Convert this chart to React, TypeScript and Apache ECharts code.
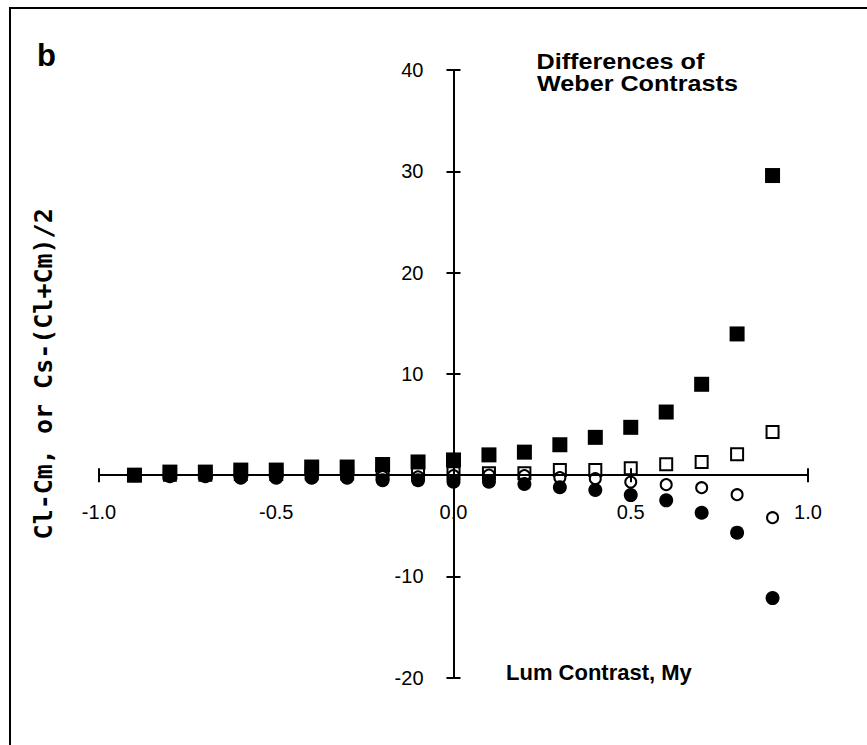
import React, { useEffect, useRef } from "react";
import * as echarts from "echarts";

// Luminance contrast (x) values
const lumContrast = [-0.9, -0.8, -0.7, -0.6, -0.5, -0.4, -0.3, -0.2, -0.1, 0, 0.1, 0.2, 0.3, 0.4, 0.5, 0.6, 0.7, 0.8, 0.9];
// Filled squares
const filledSquares = [0, 0.3, 0.3, 0.5, 0.5, 0.8, 0.8, 1.05, 1.3, 1.5, 2.0, 2.27, 3.0, 3.73, 4.72, 6.23, 8.97, 13.94, 29.58];
// Open squares
const openSquares = [0, 0.05, 0.05, 0.1, 0.1, 0.15, 0.15, 0.15, 0.2, 0.18, 0.18, 0.18, 0.5, 0.5, 0.69, 1.07, 1.3, 2.06, 4.26];
// Open circles
const openCircles = [0, -0.05, -0.05, -0.1, -0.1, -0.1, -0.15, -0.15, -0.17, -0.05, 0, -0.05, -0.25, -0.35, -0.68, -0.94, -1.24, -1.93, -4.2];
// Filled circles
const filledCircles = [0, -0.1, -0.1, -0.25, -0.25, -0.25, -0.25, -0.5, -0.5, -0.65, -0.65, -0.88, -1.2, -1.47, -1.97, -2.49, -3.71, -5.68, -12.14];

const xRange = { min: -1, max: 1, interval: 0.5 };
const yRange = { min: -20, max: 40, interval: 10 };

const yAxisName = "Cl-Cm, or Cs-(Cl+Cm)/2";
const xAxisName = "Lum Contrast, My";
const titleLines = ["Differences of", "Weber Contrasts"];
const panelLabel = "b";

const FONT = "'Liberation Sans', Arial, sans-serif";

const W = 867;
const H = 745;
const GRID = { left: 99, right: 59, top: 70, bottom: 67.3 };

export default function App() {
  const ref = useRef<HTMLDivElement>(null);

  useEffect(() => {
    if (!ref.current) return;
    const chart = echarts.init(ref.current, undefined, { renderer: "svg" });
    const pts = (ys: number[]) => lumContrast.map((x, i) => [x, ys[i]]);
    const lineStyle = { color: "#000", width: 2 };

    // place the axes through the origin (axes cross at 0,0)
    const gw = W - GRID.left - GRID.right;
    const gh = H - GRID.top - GRID.bottom;
    const zeroFromBottom = (gh * (0 - yRange.min)) / (yRange.max - yRange.min);
    const zeroFromLeft = (gw * (0 - xRange.min)) / (xRange.max - xRange.min);
    const offBottom = -zeroFromBottom;
    const offTop = -(gh - zeroFromBottom);
    const offLeft = -zeroFromLeft;
    const offRight = -(gw - zeroFromLeft);

    const option: any = {
      animation: false,
      backgroundColor: "#fff",
      grid: { ...GRID, containLabel: false, outerBoundsMode: "none" },
      xAxis: [
        {
          type: "value",
          position: "bottom",
          offset: offBottom,
          ...xRange,
          z: 10,
          axisLine: { show: true, onZero: false, lineStyle },
          axisTick: { show: true, length: 7, lineStyle },
          axisLabel: {
            margin: 27,
            fontSize: 20,
            color: "#000",
            fontFamily: FONT,
            formatter: (v: number) => v.toFixed(1),
          },
          splitLine: { show: false },
        },
        {
          type: "value",
          position: "top",
          offset: offTop,
          ...xRange,
          z: 10,
          axisLine: { show: false, onZero: false },
          axisTick: { show: true, length: 7, lineStyle },
          axisLabel: { show: false },
          splitLine: { show: false },
        },
      ],
      yAxis: [
        {
          type: "value",
          position: "left",
          offset: offLeft,
          ...yRange,
          z: 10,
          axisLine: { show: true, onZero: false, lineStyle },
          axisTick: { show: true, length: 7, lineStyle },
          axisLabel: {
            margin: 30,
            fontSize: 20,
            color: "#000",
            fontFamily: FONT,
            formatter: (v: number) => (v === 0 ? "" : String(v)),
          },
          splitLine: { show: false },
          name: yAxisName,
          nameLocation: "middle",
          nameRotate: 90,
          nameGap: 398,
          nameMoveOverlap: false,
          nameTextStyle: {
            fontFamily: "'DejaVu Sans Mono', monospace",
            fontWeight: "bold",
            fontSize: 25,
            color: "#000",
          },
        },
        {
          type: "value",
          position: "right",
          offset: offRight,
          ...yRange,
          z: 10,
          axisLine: { show: false, onZero: false },
          axisTick: { show: true, length: 7, lineStyle },
          axisLabel: { show: false },
          splitLine: { show: false },
        },
      ],
      series: [
        {
          name: "open squares",
          type: "scatter",
          symbol: "rect",
          symbolSize: 12,
          itemStyle: { color: "#fff", borderColor: "#000", borderWidth: 2, opacity: 1 },
          data: pts(openSquares),
        },
        {
          name: "open circles",
          type: "scatter",
          symbol: "circle",
          symbolSize: 11,
          itemStyle: { color: "#fff", borderColor: "#000", borderWidth: 2, opacity: 1 },
          data: pts(openCircles),
        },
        {
          name: "filled squares",
          type: "scatter",
          symbol: "rect",
          symbolSize: 15,
          itemStyle: { color: "#000", opacity: 1 },
          data: pts(filledSquares),
        },
        {
          name: "filled circles",
          type: "scatter",
          symbol: "circle",
          symbolSize: 14,
          itemStyle: { color: "#000", opacity: 1 },
          data: pts(filledCircles),
        },
      ],
      graphic: [
        {
          type: "rect",
          shape: { x: 10, y: 8, width: 1000, height: 1000 },
          style: { fill: "none", stroke: "#000", lineWidth: 2 },
          silent: true,
        },
        {
          type: "text",
          x: 37,
          y: 55,
          style: {
            text: panelLabel,
            fontFamily: FONT,
            fontWeight: "bold",
            fontSize: 31,
            fill: "#000",
            align: "left",
            verticalAlign: "middle",
          },
        },
        {
          type: "text",
          x: 536.5,
          y: 62,
          scaleX: 1.145,
          style: {
            text: titleLines[0],
            fontFamily: FONT,
            fontWeight: "bold",
            fontSize: 22,
            fill: "#000",
            align: "left",
            verticalAlign: "middle",
          },
        },
        {
          type: "text",
          x: 537,
          y: 84,
          scaleX: 1.145,
          style: {
            text: titleLines[1],
            fontFamily: FONT,
            fontWeight: "bold",
            fontSize: 22,
            fill: "#000",
            align: "left",
            verticalAlign: "middle",
          },
        },
        {
          type: "text",
          x: 506,
          y: 672.5,
          style: {
            text: xAxisName,
            fontFamily: FONT,
            fontWeight: "bold",
            fontSize: 22,
            fill: "#000",
            align: "left",
            verticalAlign: "middle",
          },
        },
      ],
    };

    chart.setOption(option);
    return () => chart.dispose();
  }, []);

  return (
    <div
      ref={ref}
      style={{ position: "absolute", left: 0, top: 0, width: W, height: H, background: "#fff" }}
    />
  );
}
